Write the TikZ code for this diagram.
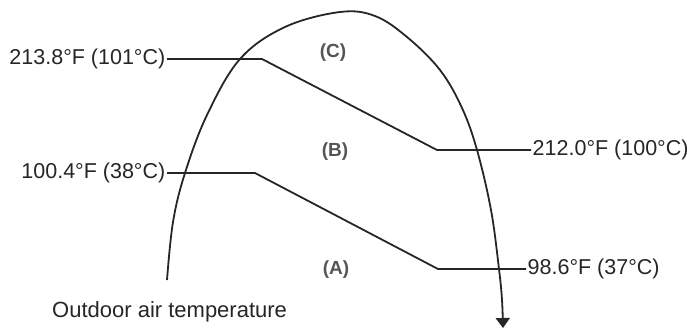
\documentclass[tikz,border=0pt]{standalone}
\usepackage{fontspec}
\setmainfont{Liberation Sans}
\usetikzlibrary{arrows.meta}
\definecolor{ink}{HTML}{262626}
\definecolor{zone}{HTML}{555555}
\tikzset{
  lbl/.style={font=\fontsize{21.5}{25}\selectfont, text=ink, inner sep=1.5pt},
  zonelbl/.style={font=\fontsize{19}{23}\selectfont\bfseries, text=zone, inner sep=0pt},
  conn/.style={draw=ink, line width=1.8pt},
  curve/.style={draw=ink, line width=1.8pt, -{Triangle[width=14pt,length=10pt]}}
}
\begin{document}
\begin{tikzpicture}[x=1pt,y=-1pt]
\useasboundingbox (0,0) rectangle (687,327);
% curve
\draw[curve] plot[smooth, tension=0.6] coordinates {(167,280) (173,222) (185,173) (207,115) (240,59) (285,27) (340,12) (375,16) (407,37) (440,70) (462,108) (477,150) (491,210) (499,269) (502,300) (503,328)};
% labels
\node[lbl, anchor=east] (t1) at (167,59) {213.8°F (101°C)};
\node[lbl, anchor=west] (t2) at (531,150) {212.0°F (100°C)};
\node[lbl, anchor=east] (t3) at (167,173) {100.4°F (38°C)};
\node[lbl, anchor=west] (t4) at (526,269) {98.6°F (37°C)};
\node[lbl, anchor=base west, inner sep=0pt, font=\fontsize{22}{26}\selectfont] (out) at (52,317) {Outdoor air temperature};
\node[zonelbl] (zc) at (333,53) {(C)};
\node[zonelbl] (zb) at (335,152) {(B)};
\node[zonelbl] (za) at (336,270) {(A)};
% kinks
\coordinate (k1) at (262,59);
\coordinate (k2) at (437,150);
\coordinate (k3) at (255,173);
\coordinate (k4) at (438,269);
\draw[conn] (t1.east) -- (k1) -- (k2) -- (t2.west);
\draw[conn] (t3.east) -- (k3) -- (k4) -- (t4.west);
\end{tikzpicture}
\end{document}
